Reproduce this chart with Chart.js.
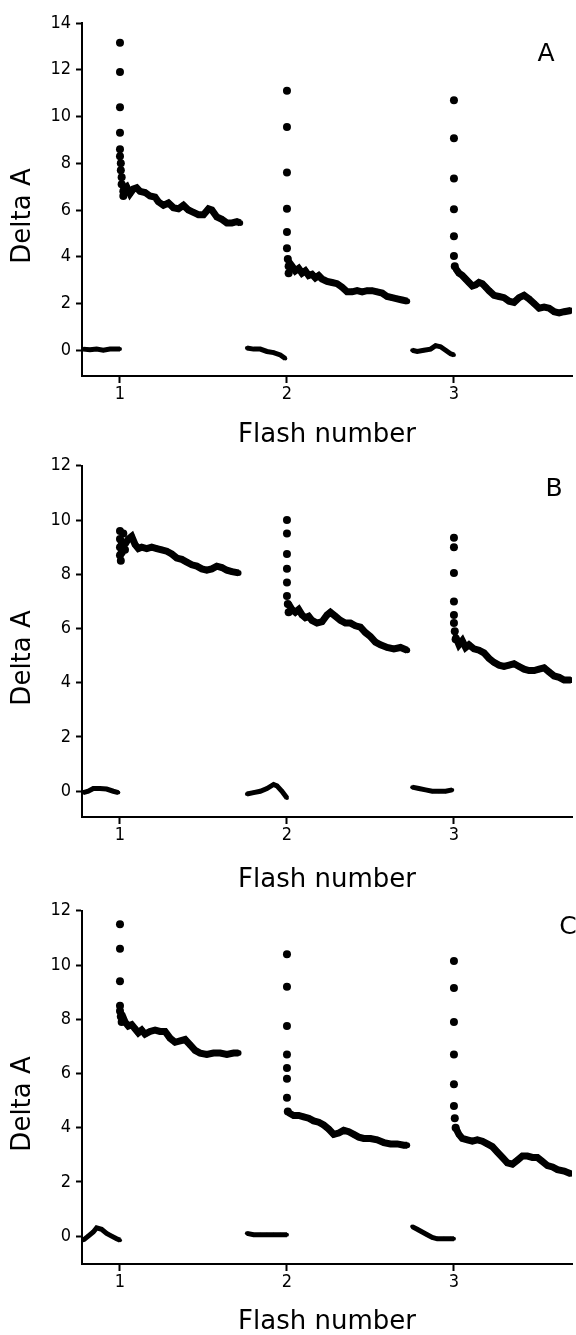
<!DOCTYPE html>
<html>
<head>
<meta charset="utf-8">
<title>Delta A - Flash number</title>
<script src="https://cdn.jsdelivr.net/npm/chart.js@4.4.1/dist/chart.umd.min.js"></script>
<style>
    body { margin: 0; background: #fff; }
    #wrap { position: relative; width: 576px; height: 1335px; }
    canvas { position: absolute; left: 0; }
</style>
</head>
<body>
<div id="wrap">
    <canvas id="chartA" width="576" height="450" style="top:0px"></canvas>
    <canvas id="chartB" width="576" height="445" style="top:450px"></canvas>
    <canvas id="chartC" width="576" height="440" style="top:895px"></canvas>
</div>
<script>
// Etiquetas de los ejes
const xTicks = [1, 2, 3];
const yTicksA = [0, 2, 4, 6, 8, 10, 12, 14];
const yTicksB = [0, 2, 4, 6, 8, 10, 12];
const yTicksC = [0, 2, 4, 6, 8, 10, 12];

// Panel A: [flash, delta A] por flash (línea base, pico, decaimiento)
const aBase = [
    [[0.78, 0.05], [0.82, 0.02], [0.86, 0.05], [0.90, 0.0], [0.94, 0.05], [0.98, 0.05], [1.0, 0.05]],
    [[1.76, 0.1], [1.80, 0.05], [1.84, 0.05], [1.88, -0.05], [1.92, -0.1], [1.96, -0.2], [1.99, -0.35]],
    [[2.75, 0.0], [2.78, -0.05], [2.82, 0.0], [2.86, 0.05], [2.89, 0.2], [2.92, 0.15], [2.95, 0.0], [2.98, -0.15], [3.0, -0.2]]
];
const aPico = [
    [[1.0, 13.15], [1.0, 11.9], [1.0, 10.4], [1.0, 9.3], [1.0, 8.6], [1.0, 8.3], [1.005, 8.0], [1.005, 7.7], [1.01, 7.4], [1.01, 7.1], [1.02, 6.8], [1.02, 6.6]],
    [[2.0, 11.1], [2.0, 9.55], [2.0, 7.6], [2.0, 6.05], [2.0, 5.06], [2.0, 4.37], [2.005, 3.9], [2.01, 3.6], [2.01, 3.3]],
    [[3.0, 10.7], [3.0, 9.07], [3.0, 7.35], [3.0, 6.03], [3.0, 4.88], [3.0, 4.03], [3.005, 3.6]]
];
const aTraza = [
    [[1.02, 6.9], [1.04, 7.0], [1.06, 6.7], [1.08, 6.9], [1.10, 6.95], [1.12, 6.8], [1.15, 6.75], [1.18, 6.6], [1.21, 6.55], [1.23, 6.35], [1.26, 6.2], [1.29, 6.3], [1.32, 6.1], [1.35, 6.05], [1.38, 6.2], [1.41, 6.0], [1.44, 5.9], [1.47, 5.8], [1.50, 5.8], [1.53, 6.05], [1.55, 6.0], [1.58, 5.7], [1.61, 5.6], [1.64, 5.45], [1.67, 5.45], [1.70, 5.5], [1.72, 5.45]],
    [[2.01, 3.8], [2.03, 3.6], [2.05, 3.4], [2.07, 3.5], [2.09, 3.3], [2.11, 3.4], [2.13, 3.2], [2.15, 3.25], [2.17, 3.1], [2.19, 3.2], [2.21, 3.05], [2.24, 2.95], [2.27, 2.9], [2.30, 2.85], [2.33, 2.7], [2.36, 2.5], [2.39, 2.5], [2.42, 2.55], [2.45, 2.5], [2.48, 2.55], [2.51, 2.55], [2.54, 2.5], [2.57, 2.45], [2.60, 2.3], [2.63, 2.25], [2.66, 2.2], [2.69, 2.15], [2.72, 2.1]],
    [[3.01, 3.5], [3.03, 3.3], [3.05, 3.2], [3.07, 3.05], [3.09, 2.9], [3.11, 2.75], [3.13, 2.8], [3.15, 2.9], [3.17, 2.85], [3.19, 2.7], [3.21, 2.55], [3.24, 2.35], [3.27, 2.3], [3.30, 2.25], [3.33, 2.1], [3.36, 2.05], [3.39, 2.25], [3.42, 2.35], [3.45, 2.2], [3.48, 2.0], [3.51, 1.8], [3.54, 1.85], [3.57, 1.8], [3.60, 1.65], [3.63, 1.6], [3.66, 1.65], [3.70, 1.7]]
];

// Panel B
const bBase = [
    [[0.78, -0.05], [0.81, 0.0], [0.84, 0.1], [0.88, 0.1], [0.92, 0.08], [0.96, 0.0], [0.99, -0.05]],
    [[1.76, -0.1], [1.80, -0.05], [1.84, 0.0], [1.88, 0.1], [1.92, 0.25], [1.94, 0.2], [1.97, 0.0], [2.0, -0.25]],
    [[2.75, 0.15], [2.79, 0.1], [2.83, 0.05], [2.87, 0.0], [2.91, 0.0], [2.95, 0.0], [2.99, 0.05]]
];
const bPico = [
    [[1.0, 9.6], [1.0, 9.3], [1.0, 9.0], [1.0, 8.7], [1.005, 8.5], [1.01, 8.8], [1.01, 9.2], [1.02, 9.5], [1.02, 9.1], [1.03, 8.9]],
    [[2.0, 10.0], [2.0, 9.5], [2.0, 8.75], [2.0, 8.2], [2.0, 7.7], [2.0, 7.2], [2.005, 6.9], [2.01, 6.6]],
    [[3.0, 9.35], [3.0, 9.0], [3.0, 8.05], [3.0, 7.0], [3.0, 6.5], [3.0, 6.2], [3.005, 5.9], [3.01, 5.6]]
];
const bTraza = [
    [[1.03, 9.1], [1.05, 9.3], [1.07, 9.4], [1.09, 9.1], [1.11, 8.95], [1.13, 9.0], [1.16, 8.95], [1.19, 9.0], [1.22, 8.95], [1.25, 8.9], [1.28, 8.85], [1.31, 8.75], [1.34, 8.6], [1.37, 8.55], [1.40, 8.45], [1.43, 8.35], [1.46, 8.3], [1.49, 8.2], [1.52, 8.15], [1.55, 8.2], [1.58, 8.3], [1.61, 8.25], [1.64, 8.15], [1.67, 8.1], [1.71, 8.05]],
    [[2.01, 6.9], [2.03, 6.7], [2.05, 6.6], [2.07, 6.7], [2.09, 6.5], [2.11, 6.4], [2.13, 6.45], [2.15, 6.3], [2.18, 6.2], [2.21, 6.25], [2.24, 6.5], [2.26, 6.6], [2.29, 6.45], [2.32, 6.3], [2.35, 6.2], [2.38, 6.2], [2.41, 6.1], [2.44, 6.05], [2.47, 5.85], [2.50, 5.7], [2.53, 5.5], [2.56, 5.4], [2.60, 5.3], [2.64, 5.25], [2.68, 5.3], [2.72, 5.2]],
    [[3.01, 5.7], [3.03, 5.4], [3.05, 5.55], [3.07, 5.3], [3.09, 5.4], [3.12, 5.25], [3.15, 5.2], [3.18, 5.1], [3.21, 4.9], [3.24, 4.75], [3.27, 4.65], [3.30, 4.6], [3.33, 4.65], [3.36, 4.7], [3.39, 4.6], [3.42, 4.5], [3.45, 4.45], [3.48, 4.45], [3.51, 4.5], [3.54, 4.55], [3.57, 4.4], [3.60, 4.25], [3.63, 4.2], [3.66, 4.1], [3.70, 4.1]]
];

// Panel C
const cBase = [
    [[0.78, -0.15], [0.81, 0.0], [0.84, 0.15], [0.86, 0.3], [0.89, 0.25], [0.92, 0.1], [0.95, 0.0], [0.98, -0.1], [1.0, -0.15]],
    [[1.76, 0.1], [1.80, 0.05], [1.84, 0.05], [1.88, 0.05], [1.92, 0.05], [1.96, 0.05], [2.0, 0.05]],
    [[2.75, 0.35], [2.78, 0.25], [2.81, 0.15], [2.84, 0.05], [2.87, -0.05], [2.90, -0.1], [2.94, -0.1], [2.98, -0.1], [3.0, -0.1]]
];
const cPico = [
    [[1.0, 11.5], [1.0, 10.6], [1.0, 9.4], [1.0, 8.5], [1.0, 8.3], [1.005, 8.1], [1.01, 7.9]],
    [[2.0, 10.4], [2.0, 9.2], [2.0, 7.75], [2.0, 6.7], [2.0, 6.2], [2.0, 5.8], [2.0, 5.1], [2.005, 4.6]],
    [[3.0, 10.15], [3.0, 9.15], [3.0, 7.9], [3.0, 6.7], [3.0, 5.6], [3.0, 4.8], [3.005, 4.35], [3.01, 4.0]]
];
const cTraza = [
    [[1.01, 8.2], [1.03, 7.9], [1.05, 7.75], [1.07, 7.8], [1.09, 7.65], [1.11, 7.5], [1.13, 7.6], [1.15, 7.45], [1.18, 7.55], [1.21, 7.6], [1.24, 7.55], [1.27, 7.55], [1.30, 7.3], [1.33, 7.15], [1.36, 7.2], [1.39, 7.25], [1.42, 7.05], [1.45, 6.85], [1.48, 6.75], [1.52, 6.7], [1.56, 6.75], [1.60, 6.75], [1.64, 6.7], [1.68, 6.75], [1.71, 6.75]],
    [[2.01, 4.55], [2.04, 4.45], [2.07, 4.45], [2.10, 4.4], [2.13, 4.35], [2.16, 4.25], [2.19, 4.2], [2.22, 4.1], [2.25, 3.95], [2.28, 3.75], [2.31, 3.8], [2.34, 3.9], [2.37, 3.85], [2.40, 3.75], [2.43, 3.65], [2.46, 3.6], [2.50, 3.6], [2.54, 3.55], [2.58, 3.45], [2.62, 3.4], [2.66, 3.4], [2.70, 3.35], [2.72, 3.35]],
    [[3.01, 4.0], [3.03, 3.75], [3.05, 3.6], [3.08, 3.55], [3.11, 3.5], [3.14, 3.55], [3.17, 3.5], [3.20, 3.4], [3.23, 3.3], [3.26, 3.1], [3.29, 2.9], [3.32, 2.7], [3.35, 2.65], [3.38, 2.8], [3.41, 2.95], [3.44, 2.95], [3.47, 2.9], [3.50, 2.9], [3.53, 2.75], [3.56, 2.6], [3.59, 2.55], [3.62, 2.45], [3.66, 2.4], [3.70, 2.3]]
];

const fuenteTicks = "'Liberation Sans Narrow', 'DejaVu Sans Condensed', 'Arial Narrow', sans-serif";
const fuenteTitulo = "'DejaVu Sans', Arial, sans-serif";

// Convierte pares [x, y] al formato de Chart.js
function aPuntos(seg) {
    return seg.map(p => ({ x: p[0], y: p[1] }));
}

// Plugin para la letra del panel (A, B, C)
const letraPanel = {
    id: 'letraPanel',
    afterDraw(chart, args, opts) {
        const { ctx, chartArea } = chart;
        ctx.save();
        ctx.fillStyle = '#000';
        ctx.font = `25px ${fuenteTitulo}`;
        ctx.textAlign = 'center';
        ctx.textBaseline = 'middle';
        ctx.fillText(opts.texto, chartArea.right + opts.dx, chartArea.top + opts.dy);
        ctx.restore();
    }
};

// Crea un panel con sus tres flashes
function crearPanel(id, base, pico, traza, yTicks, yMin, yMax, letra, layout) {
    const datasets = [];
    base.forEach(seg => datasets.push({
        data: aPuntos(seg), showLine: true, borderColor: '#000', borderWidth: 5,
        pointRadius: 2, backgroundColor: '#000', pointBorderWidth: 0
    }));
    pico.forEach(seg => datasets.push({
        data: aPuntos(seg), showLine: false, pointRadius: 4,
        backgroundColor: '#000', pointBorderWidth: 0
    }));
    traza.forEach(seg => datasets.push({
        data: aPuntos(seg), showLine: true, borderColor: '#000', borderWidth: 7,
        pointRadius: 3, backgroundColor: '#000', pointBorderWidth: 0
    }));

    return new Chart(document.getElementById(id), {
        type: 'scatter',
        data: { datasets },
        options: {
            responsive: false,
            animation: false,
            devicePixelRatio: 1,
            layout: { padding: { top: layout.padTop, right: 4, left: 0, bottom: 0 } },
            plugins: {
                legend: { display: false },
                tooltip: { enabled: false },
                letraPanel: { texto: letra, dx: layout.letraDx, dy: layout.letraDy }
            },
            scales: {
                x: {
                    type: 'linear',
                    min: 0.7725,
                    max: 3.707,
                    afterBuildTicks: s => { s.ticks = xTicks.map(v => ({ value: v })); },
                    afterFit: s => { s.height = layout.xHeight; },
                    border: { display: true, color: '#000', width: 2 },
                    grid: { drawOnChartArea: false, drawTicks: true, tickLength: 7, tickWidth: 2, tickColor: '#000' },
                    ticks: { color: '#000', padding: 1, font: { family: fuenteTicks, size: 18 }, callback: v => String(v) },
                    title: {
                        display: true, text: 'Flash number', color: '#000',
                        font: { family: fuenteTitulo, size: 26, lineHeight: 1 },
                        padding: { top: 0, bottom: layout.titlePad }
                    }
                },
                y: {
                    type: 'linear',
                    min: yMin,
                    max: yMax,
                    afterBuildTicks: s => { s.ticks = yTicks.map(v => ({ value: v })); },
                    afterFit: s => { s.width = 82; },
                    border: { display: true, color: '#000', width: 2 },
                    grid: { drawOnChartArea: false, drawTicks: true, tickLength: 6, tickWidth: 2, tickColor: '#000' },
                    ticks: { color: '#000', padding: 5, font: { family: fuenteTicks, size: 18 }, callback: v => String(v) },
                    title: {
                        display: true, text: 'Delta A    ', color: '#000',
                        font: { family: fuenteTitulo, size: 26, lineHeight: 1 },
                        padding: { top: 10, bottom: 0 }
                    }
                }
            }
        },
        plugins: [letraPanel]
    });
}

crearPanel('chartA', aBase, aPico, aTraza, yTicksA, -1.1, 14, 'A', { padTop: 23, xHeight: 74, titlePad: 2, letraDx: -26, letraDy: 31 });
crearPanel('chartB', bBase, bPico, bTraza, yTicksB, -0.95, 12, 'B', { padTop: 13, xHeight: 78, titlePad: 2, letraDx: -18, letraDy: 24 });
crearPanel('chartC', cBase, cPico, cTraza, yTicksC, -1.03, 12, 'C', { padTop: 14, xHeight: 71, titlePad: 0, letraDx: -4, letraDy: 17 });
</script>
</body>
</html>
